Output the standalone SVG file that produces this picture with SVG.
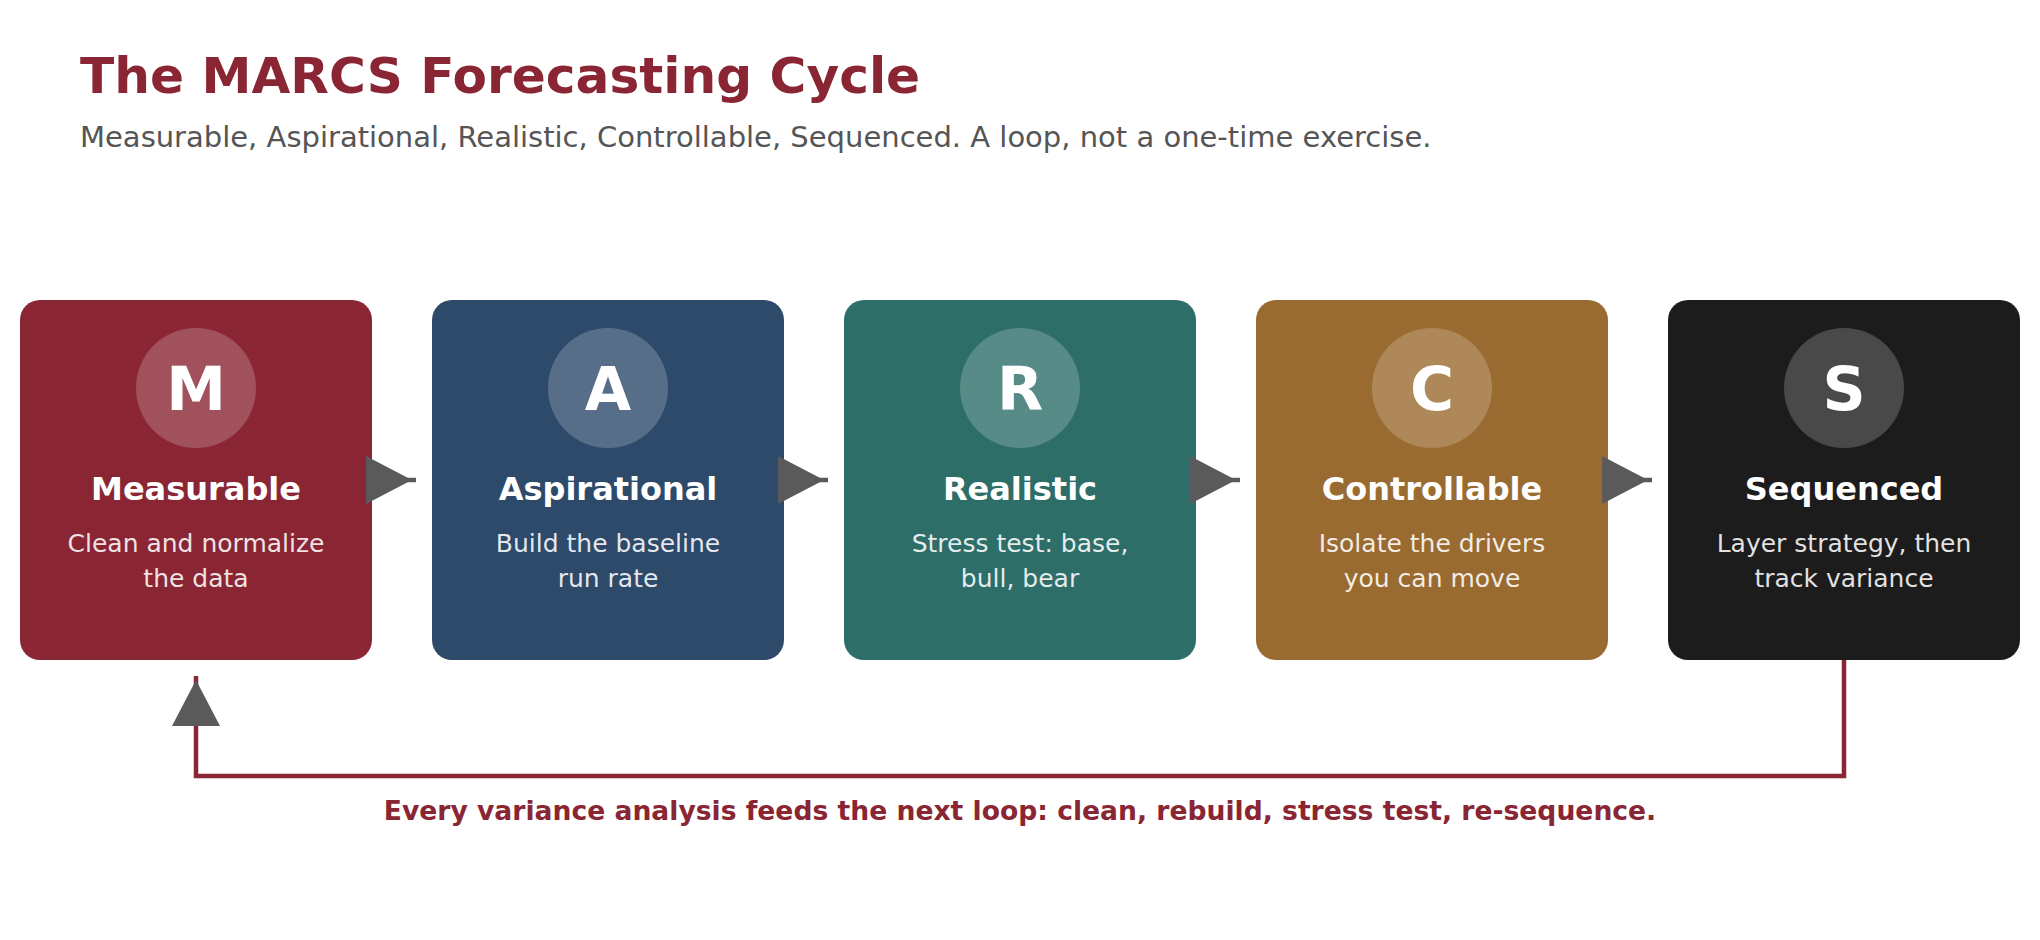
<svg xmlns="http://www.w3.org/2000/svg" width="2040" height="940" viewBox="0 0 2040 940">
<defs>
<style>
text{font-family:"DejaVu Sans","Liberation Sans",sans-serif}
.title{font-size:50.2px;font-weight:bold;fill:#8a2634}
.sub{font-size:29px;fill:#555555}
.box{stroke:none}
.disc{fill:#ffffff;fill-opacity:0.2}
.letter{font-size:60px;font-weight:bold;fill:#ffffff;text-anchor:middle}
.name{font-size:32px;font-weight:bold;fill:#ffffff;text-anchor:middle}
.desc{font-size:25px;fill:#ffffff;fill-opacity:0.88;text-anchor:middle}
.flow{stroke:#5a5a5a;stroke-width:4.5;fill:none}
.loop{stroke:#8a2634;stroke-width:4.5;fill:none}
.foot{font-size:26.6px;font-weight:bold;fill:#8a2634;text-anchor:middle}
</style>
<marker id="arr" markerUnits="userSpaceOnUse" markerWidth="50" markerHeight="48" viewBox="0 0 50 48" refX="50" refY="24" orient="auto">
<path d="M0,0 L46,24 L0,48 z" fill="#5a5a5a"/>
</marker>
</defs>
<rect width="2040" height="940" fill="#ffffff"/>
<text class="title" x="80" y="93">The MARCS Forecasting Cycle</text>
<text class="sub" x="80" y="147">Measurable, Aspirational, Realistic, Controllable, Sequenced. A loop, not a one-time exercise.</text>

<g id="node-m">
<rect class="box" x="20" y="300" width="352" height="360" rx="20" fill="#8a2634"/>
<circle class="disc" cx="196" cy="388" r="60"/>
<text class="letter" x="196" y="410">M</text>
<text class="name" x="196" y="500">Measurable</text>
<text class="desc" x="196" y="552">Clean and normalize</text>
<text class="desc" x="196" y="587">the data</text>
</g>
<g id="node-a">
<rect class="box" x="432" y="300" width="352" height="360" rx="20" fill="#2d4a6b"/>
<circle class="disc" cx="608" cy="388" r="60"/>
<text class="letter" x="608" y="410">A</text>
<text class="name" x="608" y="500">Aspirational</text>
<text class="desc" x="608" y="552">Build the baseline</text>
<text class="desc" x="608" y="587">run rate</text>
</g>
<g id="node-r">
<rect class="box" x="844" y="300" width="352" height="360" rx="20" fill="#2e6e69"/>
<circle class="disc" cx="1020" cy="388" r="60"/>
<text class="letter" x="1020" y="410">R</text>
<text class="name" x="1020" y="500">Realistic</text>
<text class="desc" x="1020" y="552">Stress test: base,</text>
<text class="desc" x="1020" y="587">bull, bear</text>
</g>
<g id="node-c">
<rect class="box" x="1256" y="300" width="352" height="360" rx="20" fill="#9a6b30"/>
<circle class="disc" cx="1432" cy="388" r="60"/>
<text class="letter" x="1432" y="410">C</text>
<text class="name" x="1432" y="500">Controllable</text>
<text class="desc" x="1432" y="552">Isolate the drivers</text>
<text class="desc" x="1432" y="587">you can move</text>
</g>
<g id="node-s">
<rect class="box" x="1668" y="300" width="352" height="360" rx="20" fill="#1c1c1c"/>
<circle class="disc" cx="1844" cy="388" r="60"/>
<text class="letter" x="1844" y="410">S</text>
<text class="name" x="1844" y="500">Sequenced</text>
<text class="desc" x="1844" y="552">Layer strategy, then</text>
<text class="desc" x="1844" y="587">track variance</text>
</g>

<g id="connectors">
<line class="flow" x1="372" y1="480" x2="416" y2="480" marker-end="url(#arr)"/>
<line class="flow" x1="784" y1="480" x2="828" y2="480" marker-end="url(#arr)"/>
<line class="flow" x1="1196" y1="480" x2="1240" y2="480" marker-end="url(#arr)"/>
<line class="flow" x1="1608" y1="480" x2="1652" y2="480" marker-end="url(#arr)"/>
<polyline class="loop" points="1844,660 1844,776 196,776 196,676" marker-end="url(#arr)"/>
</g>
<text class="foot" x="1020" y="820">Every variance analysis feeds the next loop: clean, rebuild, stress test, re-sequence.</text>
</svg>
